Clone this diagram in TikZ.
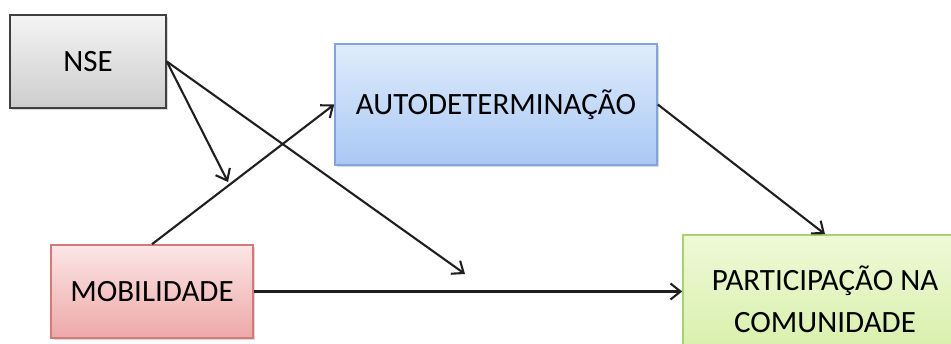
\documentclass[tikz,border=0pt]{standalone}
\usepackage{fontspec}
\setmainfont{Carlito}
\usetikzlibrary{arrows.meta,shadows}
\definecolor{nseedge}{HTML}{404040}
\definecolor{nsetop}{HTML}{F4F4F4}
\definecolor{nsebot}{HTML}{CDCDCD}
\definecolor{autoedge}{HTML}{7FA6DC}
\definecolor{autotop}{HTML}{E0ECFC}
\definecolor{autobot}{HTML}{A8C8F4}
\definecolor{mobedge}{HTML}{D27A7A}
\definecolor{mobtop}{HTML}{FCE6E6}
\definecolor{mobbot}{HTML}{EEA8A8}
\definecolor{partedge}{HTML}{A9D16E}
\definecolor{parttop}{HTML}{EEF9D8}
\definecolor{partbot}{HTML}{D6EFA6}
\tikzset{
  varbox/.style={rectangle, inner sep=0pt, line width=1.6pt, align=center,
    font=\fontsize{31}{42}\selectfont,
    drop shadow={shadow xshift=1.5pt, shadow yshift=-2pt, opacity=0.3}},
  link/.style={line width=2.1pt, draw=black!88,
    -{Straight Barb[length=10pt,width=16pt,line width=2.1pt]}}
}
\begin{document}
\begin{tikzpicture}[x=1pt,y=-1pt]
  \useasboundingbox (0,0) rectangle (951,343);
  \begin{scope}
    \clip (0,0) rectangle (951,343);
    \node[varbox, draw=nseedge, top color=nsetop, bottom color=nsebot,
      minimum width=156pt, minimum height=93pt] (nse) at (88,61.5) {NSE};
    \node[varbox, draw=autoedge, top color=autotop, bottom color=autobot,
      minimum width=322pt, minimum height=121pt] (auto) at (496,104.5) {AUTODETERMINAÇÃO};
    \node[varbox, draw=mobedge, top color=mobtop, bottom color=mobbot,
      minimum width=202pt, minimum height=93pt] (mob) at (152,291.5) {MOBILIDADE};
    \node[varbox, draw=partedge, top color=parttop, bottom color=partbot,
      minimum width=284pt, minimum height=128pt] (part) at (825,299) {PARTICIPAÇÃO NA\\COMUNIDADE};
  \end{scope}
  % free ends of the moderation arrows
  \coordinate (modA) at (228,182);
  \coordinate (modB) at (465,274);
  \draw[link] (nse.east) -- (modA);
  \draw[link] (nse.east) -- (modB);
  \draw[link] (mob.north) -- (auto.west);
  \draw[link] (auto.east) -- (part.north);
  \draw[link] (mob.east) -- (mob.east -| part.west);
\end{tikzpicture}
\end{document}
